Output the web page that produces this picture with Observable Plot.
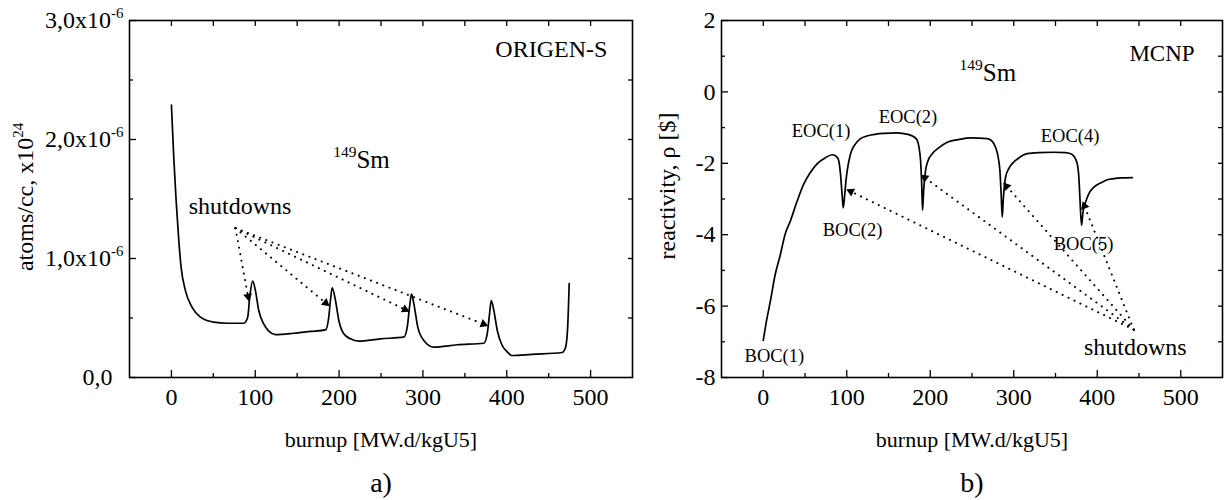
<!DOCTYPE html>
<html><head><meta charset="utf-8">
<script src="https://cdn.jsdelivr.net/npm/d3@7"></script>
<script src="https://cdn.jsdelivr.net/npm/@observablehq/plot@0.6"></script>
<style>
body{margin:0;background:#fff;}
#wrap{position:relative;width:1231px;height:500px;overflow:hidden;background:#fff;}
#pa,#pb{position:absolute;top:0;}
#pa{left:0px}
#pb{left:640px}
</style></head><body><div id="wrap"><div id="pa"></div><div id="pb"></div></div>
<script>
// ---------- DATA ----------
// a) ORIGEN-S : 149Sm concentration (atoms/cc x1e24, in units of 1e-6)
const origenBurnup = [0,2.8,5.6,8.8,11.5,16.7,24.7,34.6,50.5,66.5,86.3,91,93.4,97,100.2,104.2,110.1,116.1,124,146,165.9,183.8,187.7,189.7,191.8,195.7,199.7,205.6,213.6,223.5,249.4,277.2,281.3,284,286.4,289.2,293.9,301.1,313,340.9,372.7,376.7,379.5,381.5,384.6,388.7,394.6,400,406,430,466,470,472.5,474.5];
const origenSm149 = [2.29,1.85,1.49,1.15,0.93,0.73,0.59,0.507,0.465,0.456,0.456,0.507,0.675,0.81,0.73,0.563,0.45,0.389,0.361,0.372,0.387,0.40,0.507,0.647,0.754,0.647,0.479,0.367,0.325,0.305,0.325,0.339,0.423,0.591,0.70,0.619,0.423,0.311,0.255,0.275,0.288,0.367,0.535,0.647,0.563,0.395,0.269,0.22,0.185,0.195,0.21,0.25,0.4,0.79];
// b) MCNP : reactivity ($)
const mcnpBurnup = [0,4,8.7,14,20.7,26,32.7,40,48.7,56,64.7,74,82.6,86,89,90.6,92.5,94.5,95.8,97.5,99,100.6,104.6,110,116.5,125,144.5,160,168.4,176,181,184.4,186.5,188.4,189.8,190.8,192,194.4,197,202.4,210,220.4,235,248.3,268.3,274,278.2,281.5,283.4,285,286.2,287.5,290.2,294,298.2,306,316.2,330,348,362,368,372,376,378,379.2,381.2,383,386,390,396,404,412,420,428,442];
const mcnpReactivity = [-6.96,-6.4,-5.84,-5.15,-4.54,-4.0,-3.6,-3.1,-2.57,-2.27,-2.01,-1.85,-1.76,-1.78,-1.85,-1.95,-2.3,-2.9,-3.25,-2.9,-2.5,-2.2,-1.73,-1.47,-1.31,-1.23,-1.16,-1.15,-1.17,-1.21,-1.27,-1.36,-1.55,-1.92,-2.6,-3.32,-2.8,-2.2,-1.95,-1.73,-1.57,-1.41,-1.33,-1.29,-1.31,-1.38,-1.55,-1.85,-2.2,-2.9,-3.51,-3.0,-2.39,-2.15,-2.01,-1.85,-1.73,-1.70,-1.69,-1.70,-1.73,-1.8,-2.01,-2.4,-2.95,-3.74,-3.35,-3.09,-2.85,-2.67,-2.55,-2.46,-2.43,-2.41,-2.40];

// ticks
const xMajor = [0,100,200,300,400,500];
const xMinor = [50,150,250,350,450];
const xAll = [0,50,100,150,200,250,300,350,400,450,500];
const yMajorA = [1,2,3];
const yZeroA = [0];
const yMinorA = [0.5,1.5,2.5];
const yAllA = [0.5,1,1.5,2,2.5];
const yMajorB = [-8,-6,-4,-2,0,2];
const yMinorB = [-7,-5,-3,-1,1];
const yAllB = [-7,-6,-5,-4,-3,-2,-1,0,1];

// shutdown arrows
const arrowSrcA = {x: 76.4, y: 1.255};
const arrowTgtAx = [92.3,187.7,283,376.7];
const arrowTgtAy = [0.647,0.605,0.557,0.437];
const arrowSrcB = {x: 443.8, y: -6.66};
const arrowTgtBx = [100.6,189.6,288.2,382.8];
const arrowTgtBy = [-2.74,-2.34,-2.56,-3.09];

// annotations
const notesAText = ["ORIGEN-S","^{149}Sm","shutdowns"];
const notesAx = [520,193,20.6];
const notesAy = [2.76,1.83,1.44];
const notesAanchor = ["end","start","start"];
const notesAsize = [24,25,24];

const notesBText = ["MCNP","^{149}Sm","EOC(1)","EOC(2)","EOC(4)","BOC(1)","BOC(2)","BOC(5)","shutdowns"];
const notesBx = [516.6,235,69.2,173.3,367.4,13.3,107,383.6,445.5];
const notesBy = [1.08,0.54,-1.11,-0.71,-1.25,-7.41,-3.88,-4.27,-7.15];
const notesBanchor = ["end","start","middle","middle","middle","middle","middle","middle","middle"];
const notesBsize = [23,25,18.5,18.5,18.5,18.5,18.5,18.5,24];

// ---------- HELPERS ----------
const FONT = "'Liberation Serif','Times New Roman',serif";
function zipXY(xs, ys){ return xs.map((x,i)=>({x, y: ys[i]})); }
function notes(t, xs, ys, an, sz){ return t.map((s,i)=>({text:s, x:xs[i], y:ys[i], anchor:an[i], size:sz[i]})); }
function heads(src, tx, ty, kx, ky){
  return tx.map((x,i)=>{
    const y = ty[i];
    const dxp = (x-src.x)*kx, dyp = -(y-src.y)*ky;  // screen deltas
    const len = Math.hypot(dxp,dyp);
    const f = 4/len, g = 6/len;
    return {x, y,
      cx: x-(x-src.x)*f, cy: y-(y-src.y)*f,
      ex: x-(x-src.x)*g, ey: y-(y-src.y)*g,
      rot: Math.atan2(dyp, dxp)*180/Math.PI + 90,
      sx: src.x, sy: src.y};
  });
}

function panel(cfg){
  const {width, ml, mr, line, yDomain, yMajor, yZero, yMinor, yAll, yFmt, arrows, notesData, yLabel, yLabelDx, yLabelDy, tag} = cfg;
  const mt = 20, mb = 123, height = 500;
  const textMarks = [...new Set(notesData.map(d=>d.size+"|"+d.anchor))].map(key=>{
    const [size, anchor] = key.split("|");
    return Plot.text(notesData.filter(d=>d.size+"|"+d.anchor===key), {x:"x", y:"y", text:"text", textAnchor: anchor, fontSize: +size, lineAnchor:"middle"});
  });
  const marks = [
    Plot.frame({stroke: "black", strokeWidth: 1.6}),
    Plot.axisX(xMajor, {anchor: "bottom", tickSize: -7, tickPadding: 17, strokeWidth: 1.3, tickFormat: d=>String(d), fontSize: 24, label: null}),
    Plot.axisX(xMinor, {anchor: "bottom", tickSize: -4, strokeWidth: 1.3, tickFormat: ()=>"", label: null}),
    Plot.axisX(xAll, {anchor: "top", tickSize: -5, strokeWidth: 1.3, tickFormat: ()=>"", label: null}),
    Plot.axisY(yMajor, {anchor: "left", tickSize: -7, tickPadding: 13, strokeWidth: 1.3, tickFormat: yFmt, fontSize: 24, label: null}),
    Plot.axisY(yMinor, {anchor: "left", tickSize: -4, strokeWidth: 1.3, tickFormat: ()=>"", label: null}),
    Plot.axisY(yAll, {anchor: "right", tickSize: -5, strokeWidth: 1.3, tickFormat: ()=>"", label: null}),
    Plot.line(line, {x: "x", y: "y", stroke: "black", strokeWidth: 1.7, curve: "monotone-x"}),
    Plot.link(arrows, {x1: "sx", y1: "sy", x2: "ex", y2: "ey", stroke: "black", strokeWidth: 2, strokeDasharray: "0.1,6.5", strokeLinecap: "round"}),
    Plot.dot(arrows, {x: "cx", y: "cy", symbol: "triangle2", r: 4.2, rotate: "rot", fill: "black", stroke: "none"}),
    ...textMarks,
    Plot.text([yLabel], {text: d=>d, frameAnchor: "left", rotate: -90, dx: yLabelDx, dy: yLabelDy, fontSize: 24, lineAnchor: "middle", textAnchor: "middle"}),
    Plot.text(["burnup [MW.d/kgU5]"], {text: d=>d, frameAnchor: "bottom", dy: 62, fontSize: 22, lineAnchor: "middle"}),
    Plot.text([tag], {text: d=>d, frameAnchor: "bottom", dy: 106, fontSize: 28, lineAnchor: "middle"})
  ];
  if (yZero) marks.splice(5, 0, Plot.axisY(yZero, {anchor: "left", tickSize: -7, tickPadding: 24, strokeWidth: 1.3, tickFormat: () => "0,0", fontSize: 24, label: null}));
  return Plot.plot({
    width, height, marginLeft: ml, marginRight: mr, marginTop: mt, marginBottom: mb,
    style: {fontFamily: FONT, fontSize: "24px", color: "black", background: "white", overflow: "visible"},
    x: {domain: [-50, 550]},
    y: {domain: yDomain},
    marks
  });
}

function supify(svg){
  svg.querySelectorAll("text").forEach(t=>{
    const s = t.textContent;
    if (!s.includes("^{")) return;
    const fs = parseFloat(getComputedStyle(t).fontSize) || 23;
    const shift = fs*0.42, ss = fs*0.62;
    t.textContent = "";
    let raised = false;
    s.split(/(\^\{[^}]*\})/).filter(p=>p).forEach(p=>{
      const ts = document.createElementNS("http://www.w3.org/2000/svg","tspan");
      if (p.startsWith("^{")) {
        ts.textContent = p.slice(2,-1);
        ts.setAttribute("font-size", ss);
        if (!raised) { ts.setAttribute("dy", -shift); raised = true; }
      } else {
        ts.textContent = p;
        if (raised) { ts.setAttribute("dy", shift); raised = false; }
      }
      t.appendChild(ts);
    });
  });
}

// ---------- PANELS ----------
const kxA = (640-129-8)/600, kyA = 357/3;
const svgA = panel({
  width: 640, ml: 129, mr: 8,
  line: zipXY(origenBurnup, origenSm149),
  yDomain: [0,3], yMajor: yMajorA, yZero: yZeroA, yMinor: yMinorA, yAll: yAllA,
  yFmt: d => d.toFixed(1).replace(".", ",") + "x10^{-6}",
  arrows: heads(arrowSrcA, arrowTgtAx, arrowTgtAy, kxA, kyA),
  notesData: notes(notesAText, notesAx, notesAy, notesAanchor, notesAsize),
  yLabel: "atoms/cc, x10^{24}", yLabelDx: -104, yLabelDy: -2, tag: "a)"
});
const kxB = (591-81-9)/600, kyB = 357/10;
const svgB = panel({
  width: 591, ml: 81, mr: 9,
  line: zipXY(mcnpBurnup, mcnpReactivity),
  yDomain: [-8,2], yMajor: yMajorB, yZero: null, yMinor: yMinorB, yAll: yAllB,
  yFmt: d => String(d),
  arrows: heads(arrowSrcB, arrowTgtBx, arrowTgtBy, kxB, kyB),
  notesData: notes(notesBText, notesBx, notesBy, notesBanchor, notesBsize),
  yLabel: "reactivity, ρ [$]", yLabelDx: -54, yLabelDy: -13, tag: "b)"
});
document.getElementById("pa").appendChild(svgA);
document.getElementById("pb").appendChild(svgB);
supify(svgA); supify(svgB);
</script>
</body></html>
